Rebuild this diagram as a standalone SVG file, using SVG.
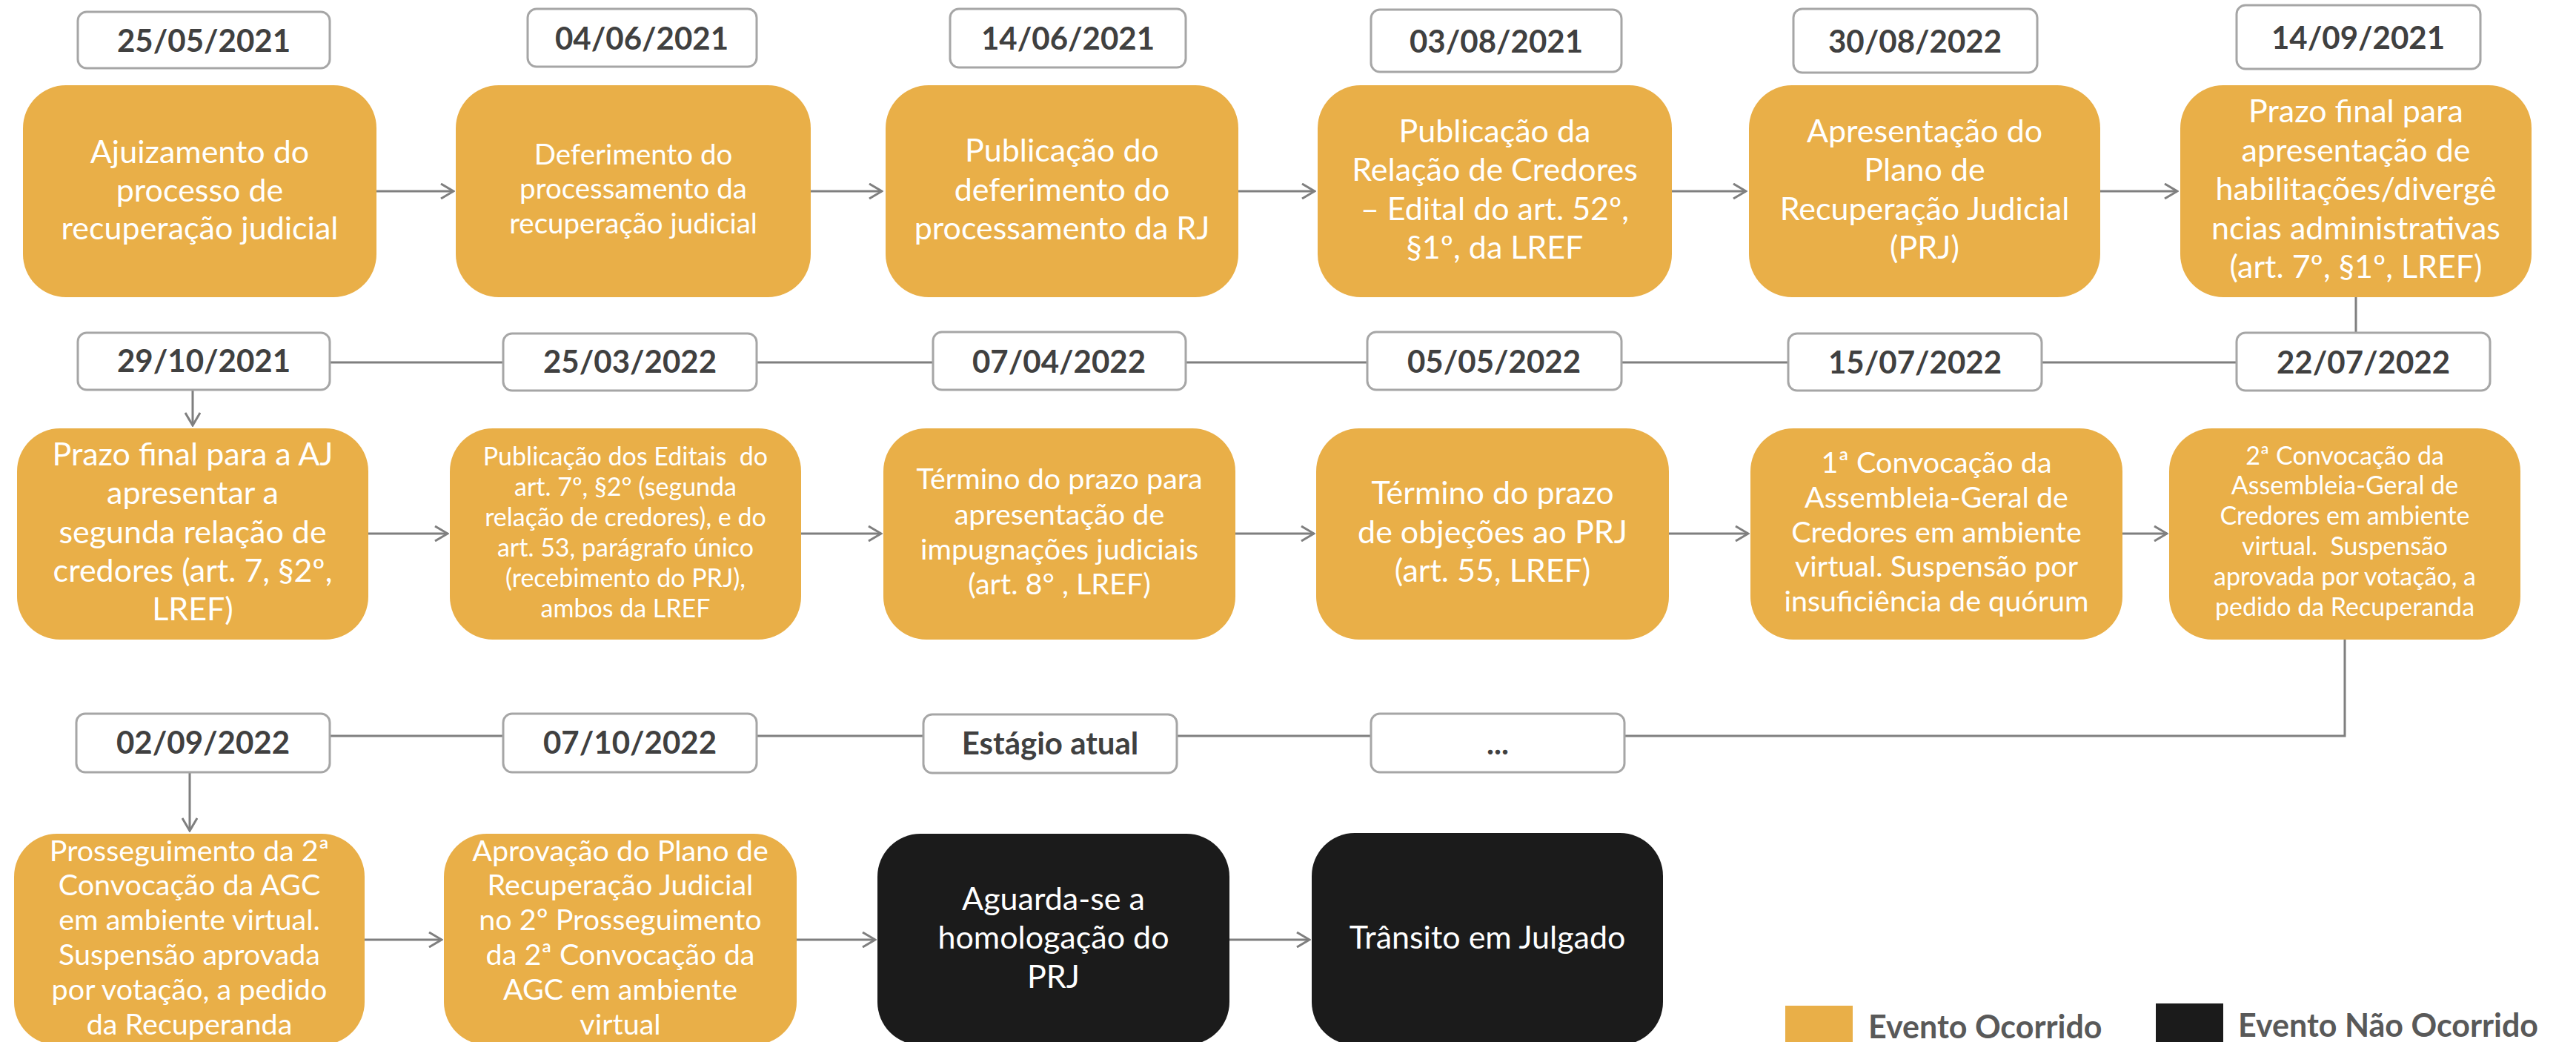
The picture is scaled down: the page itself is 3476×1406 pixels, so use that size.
<svg xmlns="http://www.w3.org/2000/svg" width="3476" height="1406" viewBox="0 0 3476 1406">
<defs>
<style>
.occ{fill:#E9AF48}
.nocc{fill:#1B1B1B}
.t{font-family:Lato,'Liberation Sans',sans-serif;fill:#FFFFFF;text-anchor:middle}
.s43{font-size:43px}
.s39{font-size:39.5px}
.s38{font-size:38.5px}
.s34{font-size:34px}
.date rect{fill:#FFFFFF;stroke:#A6A6A6;stroke-width:3}
.date text{font-family:Lato,'Liberation Sans',sans-serif;font-weight:700;font-size:42px;fill:#404040;text-anchor:middle}
.conn path{fill:none;stroke:#7F7F7F;stroke-width:3}
.leg{font-family:Lato,'Liberation Sans',sans-serif;font-weight:700;font-size:43px;fill:#595959}
</style>
<marker id="arr" viewBox="0 0 22 22" refX="20" refY="11" markerWidth="22" markerHeight="22" markerUnits="userSpaceOnUse" orient="auto">
<path d="M3,1 L20,11 L3,21" fill="none" stroke="#7F7F7F" stroke-width="3"/>
</marker>
</defs>
<rect width="3476" height="1406" fill="#FFFFFF"/>

<g id="connectors" class="conn">
<path d="M508,258 H612" marker-end="url(#arr)"/>
<path d="M1094,258 H1190" marker-end="url(#arr)"/>
<path d="M1671,258 H1774" marker-end="url(#arr)"/>
<path d="M2256,258 H2356" marker-end="url(#arr)"/>
<path d="M2834,258 H2938" marker-end="url(#arr)"/>
<path d="M3179,401 V489 H260 V574" marker-end="url(#arr)"/>
<path d="M497,720 H604" marker-end="url(#arr)"/>
<path d="M1081,720 H1189" marker-end="url(#arr)"/>
<path d="M1667,720 H1773" marker-end="url(#arr)"/>
<path d="M2252,720 H2359" marker-end="url(#arr)"/>
<path d="M2864,720 H2924" marker-end="url(#arr)"/>
<path d="M3164,863 V993 H256 V1121" marker-end="url(#arr)"/>
<path d="M492,1268 H596" marker-end="url(#arr)"/>
<path d="M1075,1268 H1181" marker-end="url(#arr)"/>
<path d="M1659,1268 H1767" marker-end="url(#arr)"/>
</g>

<!-- Row 1 dates -->
<g id="d1" class="date"><rect x="105" y="16" width="340" height="76" rx="12"/><text x="275" y="70">25/05/2021</text></g>
<g id="d2" class="date"><rect x="712" y="12" width="309" height="78" rx="12"/><text x="866" y="67">04/06/2021</text></g>
<g id="d3" class="date"><rect x="1282" y="12" width="318" height="79" rx="12"/><text x="1441" y="67">14/06/2021</text></g>
<g id="d4" class="date"><rect x="1850" y="13" width="338" height="84" rx="12"/><text x="2019" y="71">03/08/2021</text></g>
<g id="d5" class="date"><rect x="2420" y="12" width="329" height="86" rx="12"/><text x="2584" y="71">30/08/2022</text></g>
<g id="d6" class="date"><rect x="3018" y="7" width="329" height="86" rx="12"/><text x="3182" y="66">14/09/2021</text></g>

<!-- Row 2 dates -->
<g id="d7" class="date"><rect x="105" y="449" width="340" height="77" rx="12"/><text x="275" y="502">29/10/2021</text></g>
<g id="d8" class="date"><rect x="679" y="450" width="342" height="77" rx="12"/><text x="850" y="503">25/03/2022</text></g>
<g id="d9" class="date"><rect x="1259" y="448" width="341" height="78" rx="12"/><text x="1429" y="503">07/04/2022</text></g>
<g id="d10" class="date"><rect x="1845" y="448" width="343" height="78" rx="12"/><text x="2016" y="503">05/05/2022</text></g>
<g id="d11" class="date"><rect x="2413" y="450" width="342" height="77" rx="12"/><text x="2584" y="504">15/07/2022</text></g>
<g id="d12" class="date"><rect x="3018" y="449" width="342" height="78" rx="12"/><text x="3189" y="504">22/07/2022</text></g>

<!-- Row 3 dates -->
<g id="d13" class="date"><rect x="103" y="963" width="342" height="79" rx="12"/><text x="274" y="1017">02/09/2022</text></g>
<g id="d14" class="date"><rect x="679" y="963" width="342" height="79" rx="12"/><text x="850" y="1017">07/10/2022</text></g>
<g id="d15" class="date"><rect x="1246" y="964" width="342" height="79" rx="12"/><text x="1417" y="1018">Estágio atual</text></g>
<g id="d16" class="date"><rect x="1850" y="963" width="342" height="79" rx="12"/><text x="2021" y="1018">...</text></g>

<!-- Row 1 events -->
<g id="e1"><rect class="occ" x="31" y="115" width="477" height="286" rx="58"/>
<text class="t s43"><tspan x="269.5" y="220">Ajuizamento do</tspan><tspan x="269.5" y="272">processo de</tspan><tspan x="269.5" y="323">recuperação judicial</tspan></text></g>
<g id="e2"><rect class="occ" x="615" y="115" width="479" height="286" rx="58"/>
<text class="t s38"><tspan x="854.5" y="222">Deferimento do</tspan><tspan x="854.5" y="268">processamento da</tspan><tspan x="854.5" y="315">recuperação judicial</tspan></text></g>
<g id="e3"><rect class="occ" x="1195" y="115" width="476" height="286" rx="58"/>
<text class="t s43"><tspan x="1433" y="218">Publicação do</tspan><tspan x="1433" y="271">deferimento do</tspan><tspan x="1433" y="323">processamento da RJ</tspan></text></g>
<g id="e4"><rect class="occ" x="1778" y="115" width="478" height="286" rx="58"/>
<text class="t s43"><tspan x="2017" y="192">Publicação da</tspan><tspan x="2017" y="244">Relação de Credores</tspan><tspan x="2017" y="297">– Edital do art. 52º,</tspan><tspan x="2017" y="349">§1º, da LREF</tspan></text></g>
<g id="e5"><rect class="occ" x="2360" y="115" width="474" height="286" rx="58"/>
<text class="t s43"><tspan x="2597" y="192">Apresentação do</tspan><tspan x="2597" y="244">Plano de</tspan><tspan x="2597" y="297">Recuperação Judicial</tspan><tspan x="2597" y="349">(PRJ)</tspan></text></g>
<g id="e6"><rect class="occ" x="2942" y="115" width="474" height="286" rx="58"/>
<text class="t s43"><tspan x="3179" y="165">Prazo final para</tspan><tspan x="3179" y="218">apresentação de</tspan><tspan x="3179" y="270">habilitações/divergê</tspan><tspan x="3179" y="323">ncias administrativas</tspan><tspan x="3179" y="375">(art. 7º, §1º, LREF)</tspan></text></g>

<!-- Row 2 events -->
<g id="e7"><rect class="occ" x="23" y="578" width="474" height="285" rx="58"/>
<text class="t s43"><tspan x="260" y="628">Prazo final para a AJ</tspan><tspan x="260" y="680">apresentar a</tspan><tspan x="260" y="733">segunda relação de</tspan><tspan x="260" y="785">credores (art. 7, §2º,</tspan><tspan x="260" y="837">LREF)</tspan></text></g>
<g id="e8"><rect class="occ" x="607" y="578" width="474" height="285" rx="58"/>
<text class="t s34" xml:space="preserve"><tspan x="844" y="628">Publicação dos Editais  do</tspan><tspan x="844" y="669">art. 7º, §2° (segunda</tspan><tspan x="844" y="710">relação de credores), e do</tspan><tspan x="844" y="751">art. 53, parágrafo único</tspan><tspan x="844" y="792">(recebimento do PRJ),</tspan><tspan x="844" y="833">ambos da LREF</tspan></text></g>
<g id="e9"><rect class="occ" x="1192" y="578" width="475" height="285" rx="58"/>
<text class="t s39"><tspan x="1429.5" y="660">Término do prazo para</tspan><tspan x="1429.5" y="708">apresentação de</tspan><tspan x="1429.5" y="755">impugnações judiciais</tspan><tspan x="1429.5" y="802">(art. 8° , LREF)</tspan></text></g>
<g id="e10"><rect class="occ" x="1776" y="578" width="476" height="285" rx="58"/>
<text class="t s43"><tspan x="2014" y="680">Término do prazo</tspan><tspan x="2014" y="733">de objeções ao PRJ</tspan><tspan x="2014" y="785">(art. 55, LREF)</tspan></text></g>
<g id="e11"><rect class="occ" x="2362" y="578" width="502" height="285" rx="58"/>
<text class="t s39"><tspan x="2613" y="638">1ª Convocação da</tspan><tspan x="2613" y="685">Assembleia-Geral de</tspan><tspan x="2613" y="732">Credores em ambiente</tspan><tspan x="2613" y="778">virtual. Suspensão por</tspan><tspan x="2613" y="825">insuficiência de quórum</tspan></text></g>
<g id="e12"><rect class="occ" x="2927" y="578" width="474" height="285" rx="58"/>
<text class="t s34" xml:space="preserve"><tspan x="3164" y="627">2ª Convocação da</tspan><tspan x="3164" y="667">Assembleia-Geral de</tspan><tspan x="3164" y="708">Credores em ambiente</tspan><tspan x="3164" y="749">virtual.  Suspensão</tspan><tspan x="3164" y="790">aprovada por votação, a</tspan><tspan x="3164" y="831">pedido da Recuperanda</tspan></text></g>

<!-- Row 3 events -->
<g id="e13"><rect class="occ" x="19" y="1125" width="473" height="285" rx="58"/>
<text class="t s39"><tspan x="255.5" y="1162">Prosseguimento da 2ª</tspan><tspan x="255.5" y="1208">Convocação da AGC</tspan><tspan x="255.5" y="1255">em ambiente virtual.</tspan><tspan x="255.5" y="1302">Suspensão aprovada</tspan><tspan x="255.5" y="1349">por votação, a pedido</tspan><tspan x="255.5" y="1396">da Recuperanda</tspan></text></g>
<g id="e14"><rect class="occ" x="599" y="1125" width="476" height="285" rx="58"/>
<text class="t s39"><tspan x="837" y="1162">Aprovação do Plano de</tspan><tspan x="837" y="1208">Recuperação Judicial</tspan><tspan x="837" y="1255">no 2º Prosseguimento</tspan><tspan x="837" y="1302">da 2ª Convocação da</tspan><tspan x="837" y="1349">AGC em ambiente</tspan><tspan x="837" y="1396">virtual</tspan></text></g>
<g id="e15"><rect class="nocc" x="1184" y="1125" width="475" height="285" rx="58"/>
<text class="t s43"><tspan x="1421.5" y="1228">Aguarda-se a</tspan><tspan x="1421.5" y="1280">homologação do</tspan><tspan x="1421.5" y="1333">PRJ</tspan></text></g>
<g id="e16"><rect class="nocc" x="1770" y="1124" width="474" height="286" rx="58"/>
<text class="t s43"><tspan x="2007" y="1280">Trânsito em Julgado</tspan></text></g>

<!-- Legend -->
<g id="legend">
<rect class="occ" x="2409" y="1357" width="91" height="60"/>
<text class="leg" x="2521" y="1401">Evento Ocorrido</text>
<rect class="nocc" x="2909" y="1354" width="91" height="60"/>
<text class="leg" x="3020" y="1399">Evento Não Ocorrido</text>
</g>
</svg>
